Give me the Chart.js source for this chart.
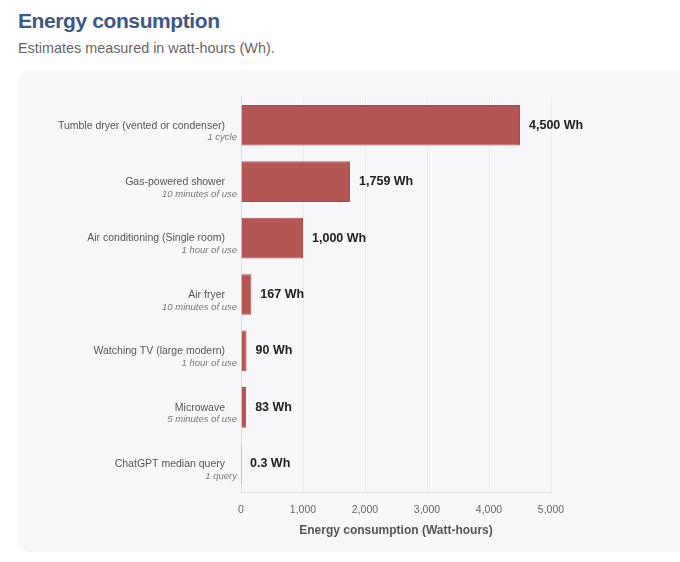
<!DOCTYPE html>
<html lang="en">
<head>
    <meta charset="UTF-8">
    <title>Energy consumption</title>
    <script src="https://cdn.jsdelivr.net/npm/chart.js"></script>
    <style>
        body { margin: 0; background: #fff; font-family: "Liberation Sans", Arial, sans-serif; overflow: hidden; }
        h1 { position: absolute; left: 18px; top: 9px; margin: 0; font-size: 21px; letter-spacing: -0.4px; color: #3b5886; }
        p.sub { position: absolute; left: 18px; top: 40px; margin: 0; font-size: 14.4px; color: #666; }
        .panel { position: absolute; left: 18px; top: 70px; width: 680px; height: 482px; background: #f8f8fa; border-radius: 12px; }
        .panel canvas { position: absolute; left: 0; top: 0; }
    </style>
</head>
<body>
    <h1>Energy consumption</h1>
    <p class="sub">Estimates measured in watt-hours (Wh).</p>
    <div class="panel">
        <canvas id="energyChart" width="662" height="482"></canvas>
    </div>

    <script>
        const appliances = [
            'Tumble dryer (vented or condenser)',
            'Gas-powered shower',
            'Air conditioning (Single room)',
            'Air fryer',
            'Watching TV (large modern)',
            'Microwave',
            'ChatGPT median query'
        ];
        const usage = [
            '1 cycle',
            '10 minutes of use',
            '1 hour of use',
            '10 minutes of use',
            '1 hour of use',
            '5 minutes of use',
            '1 query'
        ];
        const wattHours = [4500, 1759, 1000, 167, 90, 83, 0.3];
        const xTicks = [0, 1000, 2000, 3000, 4000, 5000];

        // etiquetas do eixo y (nome + uso em itálico) e valores no fim das barras
        const labelPlugin = {
            id: 'labelPlugin',
            afterDraw(chart) {
                const ctx = chart.ctx;
                const y = chart.scales.y;
                const area = chart.chartArea;
                const meta = chart.getDatasetMeta(0);
                ctx.save();
                appliances.forEach((name, i) => {
                    const py = y.getPixelForValue(i);
                    ctx.textAlign = 'right';
                    ctx.textBaseline = 'middle';
                    ctx.fillStyle = '#555';
                    ctx.font = '10.5px "Liberation Sans", Arial, sans-serif';
                    ctx.fillText(name, area.left - 16, py + 0.5);
                    ctx.fillStyle = '#777';
                    ctx.font = 'italic 9.5px "Liberation Sans", Arial, sans-serif';
                    ctx.fillText(usage[i], area.left - 4, py + 12.5);

                    const bar = meta.data[i];
                    ctx.textAlign = 'left';
                    ctx.fillStyle = '#222';
                    ctx.font = 'bold 12.5px "Liberation Sans", Arial, sans-serif';
                    ctx.fillText(wattHours[i].toLocaleString('en-US') + ' Wh', bar.x + 9, py);
                });
                ctx.restore();
            }
        };

        new Chart(document.getElementById('energyChart'), {
            type: 'bar',
            data: {
                labels: appliances,
                datasets: [{
                    data: wattHours,
                    backgroundColor: '#b45754',
                    borderColor: '#a84b48',
                    borderWidth: 1
                }]
            },
            options: {
                indexAxis: 'y',
                responsive: false,
                animation: false,
                layout: { padding: { top: 27, right: 129, bottom: 14, left: 0 } },
                plugins: { legend: { display: false }, tooltip: { enabled: false } },
                scales: {
                    x: {
                        min: 0,
                        max: 5000,
                        afterBuildTicks: (scale) => { scale.ticks = xTicks.map(v => ({ value: v })); },
                        ticks: {
                            padding: 12,
                            color: '#666',
                            font: { size: 10.5, family: '"Liberation Sans", Arial, sans-serif' },
                            callback: (v) => v.toLocaleString('en-US')
                        },
                        grid: { color: '#ececef', drawTicks: false },
                        border: { color: '#e3e3e6' },
                        title: {
                            display: true,
                            text: 'Energy consumption (Watt-hours)',
                            color: '#555',
                            padding: { top: -5, bottom: 0 },
                            font: { size: 12, weight: 'bold', family: '"Liberation Sans", Arial, sans-serif' }
                        }
                    },
                    y: {
                        ticks: { display: false },
                        grid: { display: false },
                        border: { color: '#dcdce0' },
                        afterFit: (scale) => { scale.width = 223; }
                    }
                }
            },
            plugins: [labelPlugin]
        });
    </script>
</body>
</html>
